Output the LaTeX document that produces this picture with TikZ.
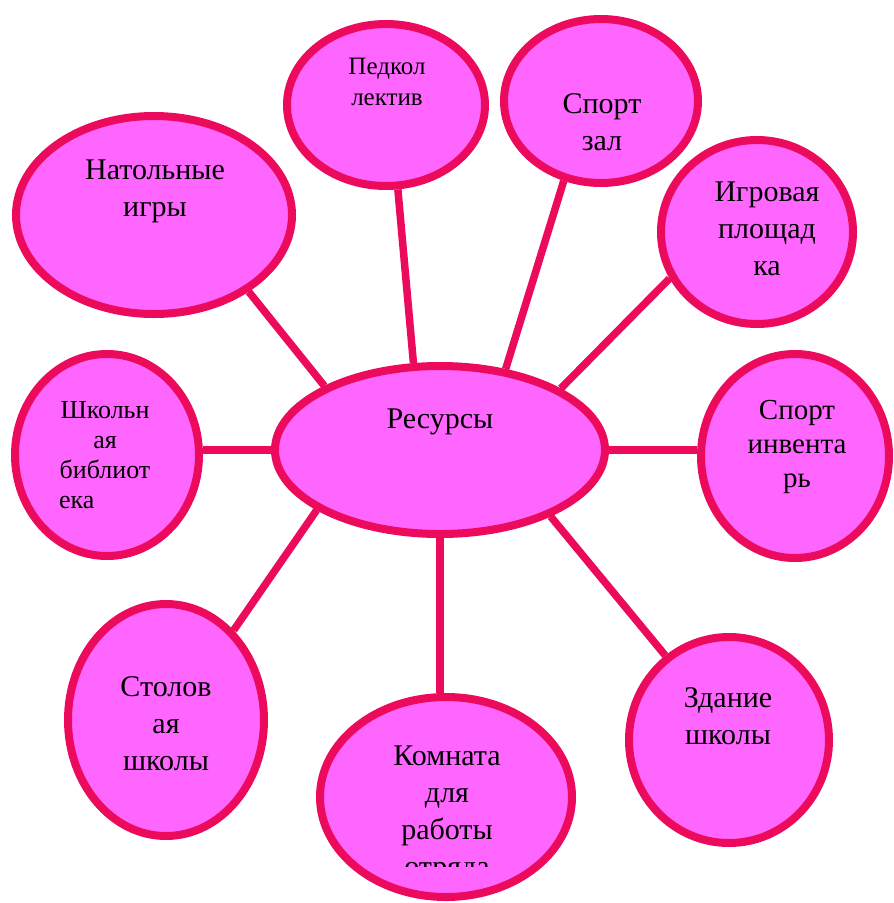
\documentclass[tikz,border=0pt]{standalone}
\usepackage{fontspec}
\setmainfont{Liberation Serif}
\usetikzlibrary{shapes.geometric}
\pgfdeclarelayer{bg}
\pgfsetlayers{bg,main}
\definecolor{fillc}{HTML}{FF66FF}
\definecolor{edgec}{HTML}{EC0A5C}
\begin{document}
\begin{tikzpicture}[x=1pt,y=-1pt,
  bubble/.style={ellipse, draw=edgec, fill=fillc, line width=8pt, inner sep=0pt},
  link/.style={draw=edgec, line width=7.5pt},
  bigtext/.style={font=\fontsize{30}{37}\selectfont, align=center, anchor=north, inner sep=0pt},
  midtext/.style={font=\fontsize{29}{34}\selectfont, align=center, anchor=north, inner sep=0pt},
  smalltext/.style={font=\fontsize{25}{31}\selectfont, align=center, anchor=north, inner sep=0pt}]
\useasboundingbox (0,0) rectangle (894,903);
% bubbles
\node[bubble, minimum width=198pt, minimum height=162pt] (ped) at (386,105) {};
\node[bubble, minimum width=194pt, minimum height=164pt] (zal) at (601,101) {};
\node[bubble, minimum width=276pt, minimum height=198pt] (nat) at (154,215) {};
\node[bubble, minimum width=192pt, minimum height=184pt] (igr) at (757,232) {};
\node[bubble, minimum width=330pt, minimum height=168pt] (res) at (440,450) {};
\node[bubble, minimum width=184pt, minimum height=202pt] (lib) at (107,455) {};
\node[bubble, minimum width=188pt, minimum height=204pt] (inv) at (795,456) {};
\node[bubble, minimum width=196pt, minimum height=232pt] (stol) at (166,720) {};
\node[bubble, minimum width=252pt, minimum height=200pt] (kom) at (446,797) {};
\node[bubble, minimum width=200pt, minimum height=206pt] (zd) at (729,740) {};
% connectors
\begin{pgfonlayer}{bg}
\draw[link] (res.151.2) -- (nat.-39.3);
\draw[link] (res.107.6) -- (ped.278);
\draw[link] (res.51.6) -- (zal.245.1);
\draw[link] (res.27.9) -- (igr.208.3);
\draw[link] (res.0) -- (res.0 -| inv.west);
\draw[link] (res.180) -- (res.180 -| lib.east);
\draw[link] (res.206.2) -- (stol.53.6);
\draw[link] (res.270) -- (res.270 |- kom.north);
\draw[link] (res.329) -- (zd.127.6);
\end{pgfonlayer}
% texts
\node[smalltext] (tped) at (387,57.5) {Педкол\\лектив};
\node[bigtext] (tzal) at (602,93) {Спорт\\зал};
\node[bigtext] (tnat) at (155,160) {Натольные\\игры};
\node[bigtext] (tigr) at (767,182) {Игровая\\площад\\ка};
\node[bigtext] (tres) at (440,409) {Ресурсы};
\node[font=\fontsize{26}{30}\selectfont, align=center, anchor=north, inner sep=0pt] (tlib) at (105,401) {Школьн\\ая\\библиот\\\makebox[92pt][l]{ека}};
\node[midtext] (tinv) at (797,400) {Спорт\\инвента\\рь};
\node[bigtext] (tstol) at (166,676) {Столов\\ая\\школы};
\begin{scope}
\clip (300,600) rectangle (600,866);
\node[bigtext] (tkom) at (447,746) {Комната\\для\\работы\\отряда};
\end{scope}
\node[bigtext] (tzd) at (728,687) {Здание\\школы};
\end{tikzpicture}
\end{document}
